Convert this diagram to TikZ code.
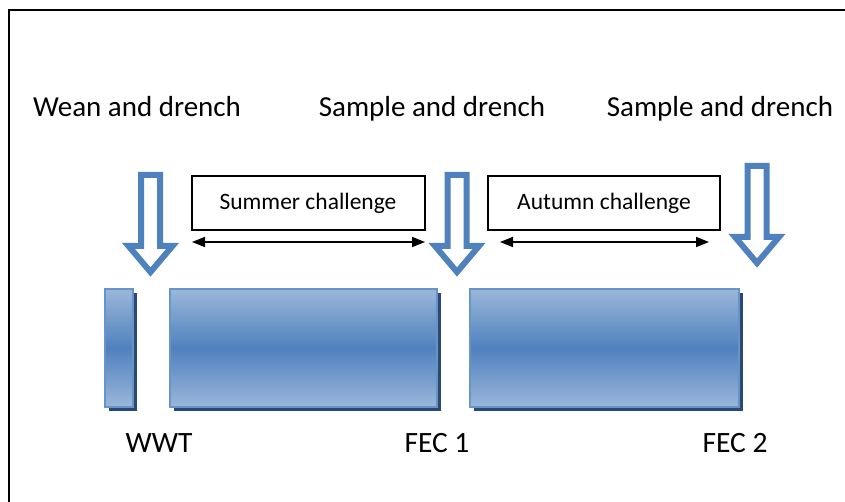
\documentclass[tikz,border=0pt]{standalone}
\usepackage{fontspec}
\setmainfont{Carlito}
\usetikzlibrary{arrows.meta}
\definecolor{officeblue}{HTML}{4F81BD}
\definecolor{barlight}{HTML}{9BB7DB}
\definecolor{barshadow}{HTML}{2A4A73}
\tikzset{
  frameline/.style={line width=2.5pt, black},
  heading/.style={anchor=base, font=\fontsize{29}{34}\selectfont, inner sep=0pt},
  marker/.style={anchor=base, font=\fontsize{29.5}{34}\selectfont, inner sep=0pt},
  periodbox/.style={draw=black, line width=1.6pt, fill=white},
  periodtext/.style={anchor=base, font=\fontsize{23.5}{28}\selectfont, inner sep=0pt},
  span/.style={line width=1.5pt, {Triangle[length=13pt,width=10pt]}-{Triangle[length=13pt,width=10pt]}},
  blockarrow/.style={draw=officeblue, line width=6pt, fill=white, line join=miter},
  barbody/.style={top color=barlight, bottom color=barlight, middle color=officeblue},
  baredge/.style={draw=officeblue!85!white, line width=2pt},
  pics/downarrow/.style={code={
    \path[blockarrow] (-9.5,3) -- (9.5,3) -- (9.5,74) -- (22,74) -- (0,100)
      -- (-22,74) -- (-9.5,74) -- cycle;
  }}
}
% a timeline bar: shadow, graded fill, edge
\newcommand{\timebar}[5]{%
  \fill[barshadow] (#2+4,#3+4) rectangle (#4+4,#5+4);
  \shade[barbody] (#2,#3) rectangle (#4,#5);
  \draw[baredge] (#2,#3) rectangle (#4,#5);
  \coordinate (#1) at ({(#2+#4)/2},{(#3+#5)/2});
}
\begin{document}
\begin{tikzpicture}[x=1pt, y=-1pt]
  \useasboundingbox (0,0) rectangle (845,502);
  \fill[white] (0,0) rectangle (845,502);

  % frame along the top and left
  \draw[frameline] (9,502) -- (9,10) -- (845,10);

  % event headings
  \node[heading] (wean) at (137,117) {Wean and drench};
  \node[heading] (samp1) at (432,117) {Sample and drench};
  \node[heading] (samp2) at (720,117) {Sample and drench};

  % challenge periods
  \draw[periodbox] (192,176) rectangle (425,230);
  \node[periodtext] (summer) at (308,210) {Summer challenge};
  \draw[periodbox] (488,176) rectangle (720,230);
  \node[periodtext] (autumn) at (604,210) {Autumn challenge};

  \coordinate (sumL) at (192,242);
  \coordinate (sumR) at (425,242);
  \coordinate (autL) at (500,242);
  \coordinate (autR) at (709,242);
  \draw[span] (sumL) -- (sumR);
  \draw[span] (autL) -- (autR);

  % drench arrows
  \pic at (150.5,172) {downarrow};
  \pic at (457,172) {downarrow};
  \pic at (757,163) {downarrow};

  % timeline bars
  \timebar{barA}{105}{289}{133}{407}
  \timebar{barB}{170}{289}{437}{407}
  \timebar{barC}{470}{289}{739}{407}

  % sampling markers
  \node[marker] (wwt) at (159,452) {WWT};
  \node[marker] (fec1) at (437,452) {FEC 1};
  \node[marker] (fec2) at (735,452) {FEC 2};
\end{tikzpicture}
\end{document}
